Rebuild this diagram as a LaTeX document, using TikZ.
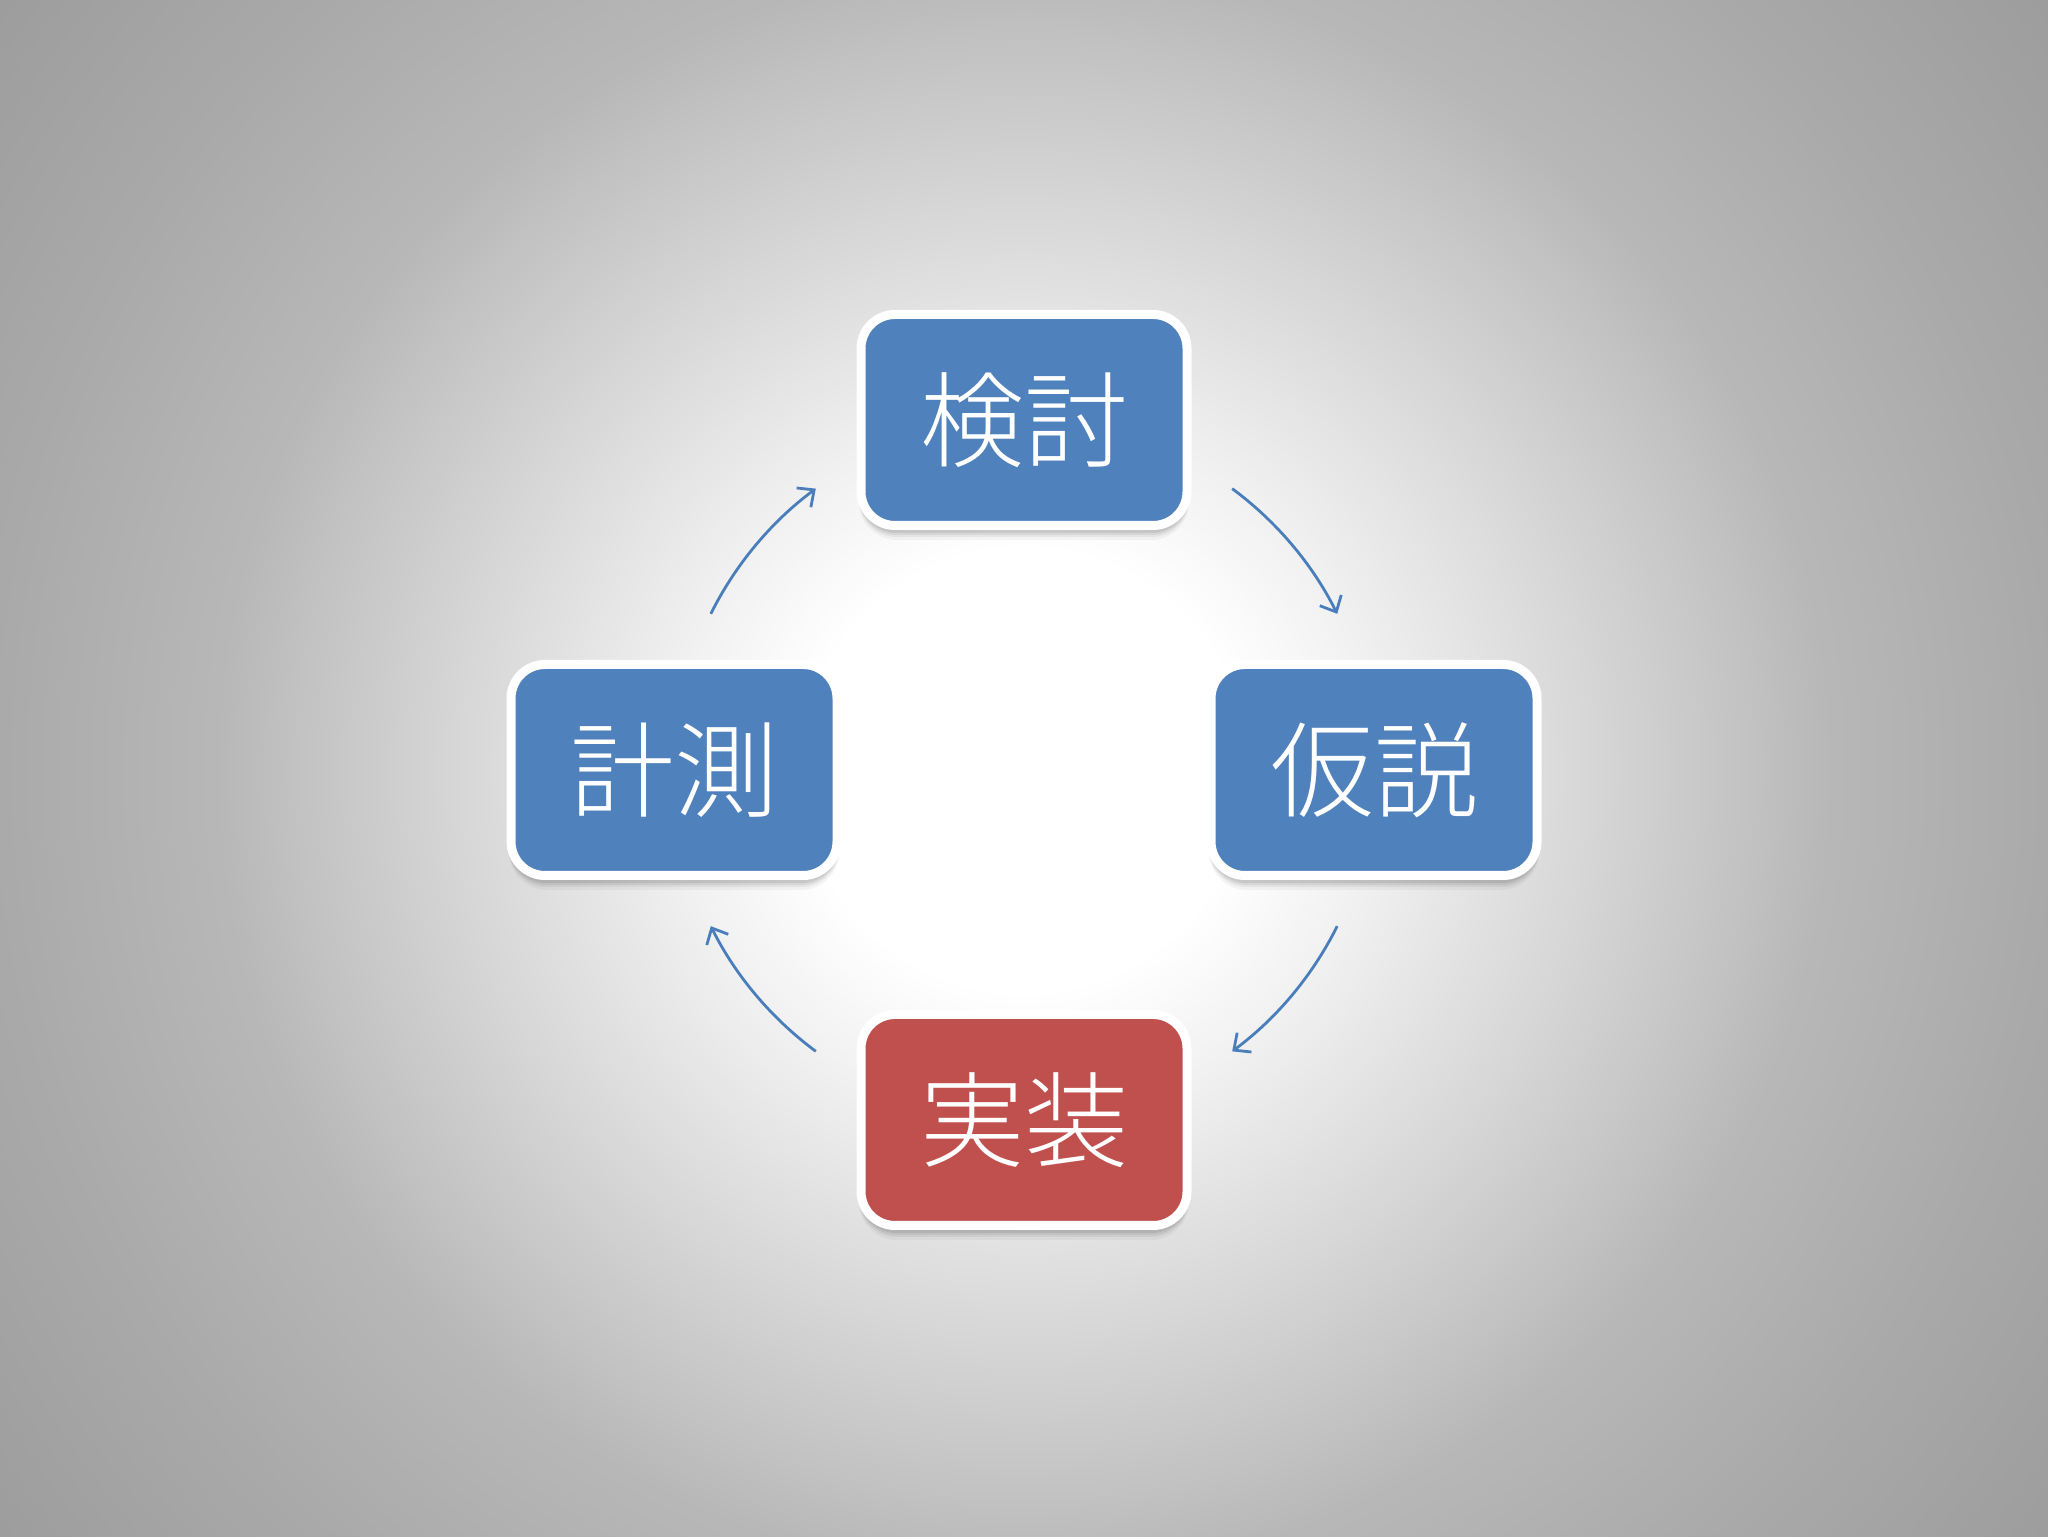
\documentclass[tikz,border=0pt]{standalone}
\usepackage{fontspec}
\newfontfamily\cjk{Noto Sans CJK JP}[UprightFont=* Light]
\usetikzlibrary{arrows.meta,calc}
\definecolor{boxblue}{HTML}{4F81BD}
\definecolor{boxred}{HTML}{C0504D}
\definecolor{arrowblue}{HTML}{4A7EBB}
\pgfdeclareradialshading{bgshade}{\pgfpoint{0bp}{0bp}}{%
  gray(0bp)=(1); gray(110bp)=(1); gray(180bp)=(0.94); gray(283bp)=(0.84);
  gray(363bp)=(0.76); gray(400bp)=(0.72); gray(512bp)=(0.665); gray(650bp)=(0.61)}
\tikzset{
  stagebox/.style={draw=white, line width=4.5pt, rounded corners=17pt,
    minimum width=163pt, minimum height=105.5pt, text=white,
    font=\cjk\fontsize{52pt}{60pt}\selectfont, inner sep=0pt},
  bluebox/.style={stagebox, fill=boxblue},
  redbox/.style={stagebox, fill=boxred},
  cyclearrow/.style={draw=arrowblue, line width=1.4pt,
    -{Straight Barb[length=6.5pt,width=12pt,line width=1.4pt]}},
  boxshadow/.style={fill=black, rounded corners=19pt}
}
\begin{document}
\begin{tikzpicture}[x=0.5pt,y=0.5pt]
\useasboundingbox (0,0) rectangle (2048,1536);
\begin{scope}
  \clip (0,0) rectangle (2048,1536);
  \node[inner sep=0pt, outer sep=0pt] (bg) at (1024,766) {\pgfuseshading{bgshade}};
\end{scope}
\coordinate (C) at (1024,766);
% shadows
\foreach \px/\py in {1024/1116,1374/766,674/766,1024/416}{
  \foreach \s/\o in {0/0.07,2/0.06,4/0.05,7/0.04}{
    \fill[boxshadow, opacity=\o] (\px-165,\py-113-\s) rectangle (\px+165,\py+100);
  }
}
\node[bluebox] (kento) at (1024,1116) {\raisebox{3pt}{検討}};
\node[bluebox] (kasetsu) at (1374,766) {\raisebox{3pt}{仮説}};
\node[bluebox] (keisoku) at (674,766) {\raisebox{3pt}{計測}};
\node[redbox] (jisso) at (1024,416) {\raisebox{3pt}{実装}};
% arrows on circle of radius 350 px around C
\coordinate (a1s) at ($(C)+(53.5:175pt)$);
\coordinate (a2s) at ($(C)+(-26.5:175pt)$);
\coordinate (a3s) at ($(C)+(-126.5:175pt)$);
\coordinate (a4s) at ($(C)+(153.5:175pt)$);
\draw[cyclearrow] (a1s) arc[start angle=53.5, end angle=26.5, radius=175pt];
\draw[cyclearrow] (a2s) arc[start angle=-26.5, end angle=-53.5, radius=175pt];
\draw[cyclearrow] (a3s) arc[start angle=-126.5, end angle=-153.5, radius=175pt];
\draw[cyclearrow] (a4s) arc[start angle=153.5, end angle=126.5, radius=175pt];
\end{tikzpicture}
\end{document}
